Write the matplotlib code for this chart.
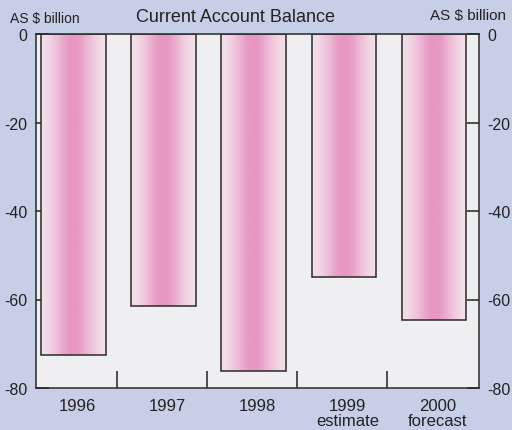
import numpy as np
import matplotlib
matplotlib.use("Agg")
import matplotlib.pyplot as plt
from matplotlib.colors import LinearSegmentedColormap

years = ["1996", "1997", "1998", "1999\nestimate", "2000\nforecast"]
balance = [-72.5, -61.5, -76.2, -55.0, -64.6]
yticks = [0, -20, -40, -60, -80]

plt.rcParams['font.family'] = ['Liberation Sans', 'DejaVu Sans']

fig = plt.figure(figsize=(5.12, 4.31), dpi=100)
fig.patch.set_facecolor('#c7cfe8')
ax = fig.add_axes([36/512, 1-389/431, (479-36)/512, (389-35)/431])
ax.set_facecolor('#efeef1')

x = np.arange(len(years))
width = 0.72
bars = ax.bar(x + 0.02, balance, width=width, bottom=0, facecolor='none',
              edgecolor='#2a2a2a', linewidth=1.1, zorder=3)

cmap = LinearSegmentedColormap.from_list('pinkgrad', ['#f4e6ee', '#e797c1'])
g = np.linspace(-1, 1, 200)
prof = np.exp(-(g / 0.62) ** 2)[None, :]
for b in bars:
    x0 = b.get_x()
    w = b.get_width()
    h = b.get_height()
    im = ax.imshow(prof, cmap=cmap, aspect='auto', vmin=0, vmax=1,
                   extent=[x0, x0 + w, h, 0], zorder=2, interpolation='bilinear')
    im.set_clip_path(b)

ax.set_xlim(-0.4, 4.52)
ax.set_ylim(-80, 0)

ax.set_yticks(yticks)
ax.set_yticklabels([str(v) for v in yticks])
ax.tick_params(axis='y', direction='in', length=9, width=1.1, labelsize=11.5,
               left=True, right=True, labelleft=True, labelright=True, pad=6,
               colors='#222222')

ax.set_xticks(np.arange(0.5, 4.0, 1.0))
ax.set_xticklabels([])
ax.tick_params(axis='x', which='major', direction='in', length=12, width=1.1,
               colors='#222222')
ax.set_xticks(x + 0.06, minor=True)
ax.set_xticklabels(years, minor=True, fontsize=12, linespacing=1.0)
ax.tick_params(axis='x', which='minor', length=0, pad=7, colors='#222222')

for s in ax.spines.values():
    s.set_linewidth(1.1)
    s.set_color('#2a2a2a')

fig.text(236/512, 1-17/431, 'Current Account Balance', ha='center', va='center',
         fontsize=13, color='#222222')
fig.text(10/512, 1-19/431, 'AS $ billion', ha='left', va='center',
         fontsize=10, color='#222222')
fig.text(430/512, 1-16/431, 'AS $ billion', ha='left', va='center',
         fontsize=11, color='#222222')

fig.savefig('out.png', dpi=100, facecolor=fig.get_facecolor())
